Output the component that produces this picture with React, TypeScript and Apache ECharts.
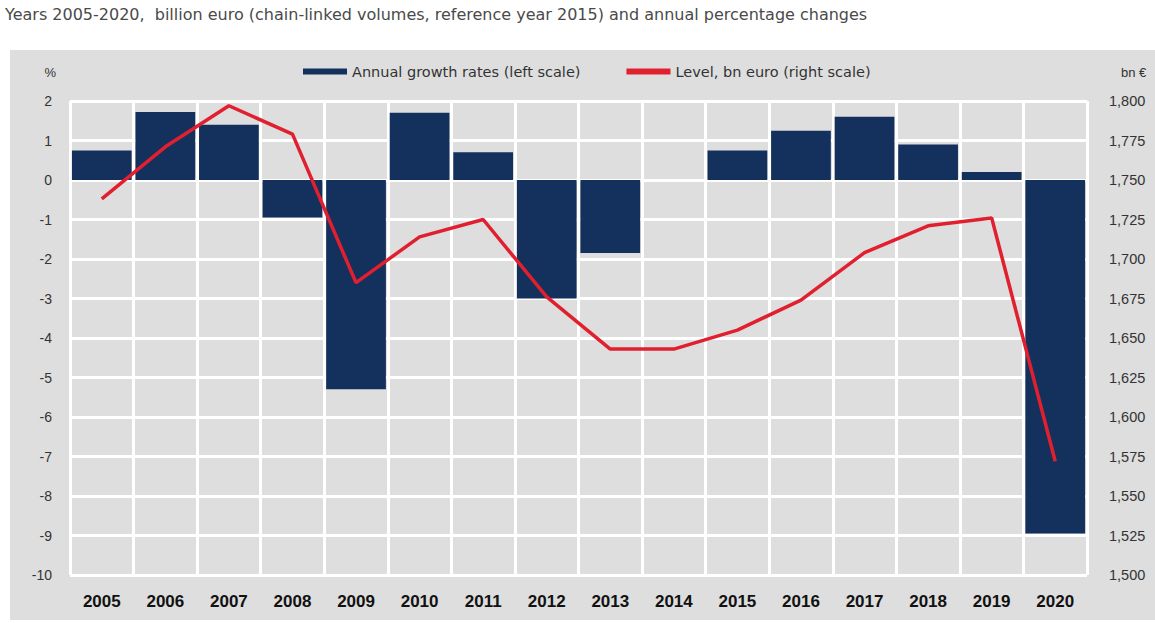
import React, { useEffect, useRef } from "react";
import * as echarts from "echarts";

const years = ["2005","2006","2007","2008","2009","2010","2011","2012","2013","2014","2015","2016","2017","2018","2019","2020"];
const growthRates = [0.75, 1.72, 1.4, -0.95, -5.3, 1.7, 0.7, -3.0, -1.85, 0.0, 0.75, 1.25, 1.6, 0.9, 0.2, -8.95];
const levelBn = [1738, 1771, 1797, 1779, 1685, 1714, 1725, 1676, 1643, 1643, 1655, 1674, 1704, 1721, 1726, 1572];

const titleText = "Years 2005-2020,  billion euro (chain-linked volumes, reference year 2015) and annual percentage changes";
const barName = "Annual growth rates (left scale)";
const lineName = "Level, bn euro (right scale)";

export default function App() {
  const ref = useRef<HTMLDivElement>(null);
  useEffect(() => {
    if (!ref.current) return;
    const chart = echarts.init(ref.current, null, { renderer: "svg" });
    const font = "Arial, 'Liberation Sans', sans-serif";
    const wide = "'DejaVu Sans', Arial, sans-serif";
    chart.setOption({
      animation: false,
      backgroundColor: "#ffffff",
      textStyle: { fontFamily: font },
      graphic: [
        { type: "rect", z: -10, shape: { x: 10, y: 50, width: 1145, height: 570 }, style: { fill: "#dedede" } },
        { type: "text", left: 5, top: 6, style: { text: titleText, fill: "#4a4a4a", fontSize: 16, fontFamily: wide } },
      ],
      legend: {
        top: 59,
        left: 298,
        itemWidth: 44,
        itemHeight: 6,
        itemGap: 46,
        textStyle: { fontSize: 14.5, color: "#333", fontFamily: wide },
        data: [
          { name: barName, icon: "rect" },
          { name: lineName, icon: "rect" },
        ],
      },
      grid: { left: 70, right: 68, top: 101, bottom: 48, containLabel: false },
      xAxis: {
        type: "category",
        data: years,
        boundaryGap: true,
        axisLine: { show: false },
        axisTick: { show: false },
        splitLine: { show: true, interval: 0, lineStyle: { color: "#ffffff", width: 3 } },
        axisLabel: { margin: 18, fontSize: 17, fontWeight: "bold", color: "#111", interval: 0, fontFamily: font },
      },
      yAxis: [
        {
          type: "value",
          min: -10,
          max: 2,
          interval: 1,
          name: "%",
          nameLocation: "end",
          nameGap: 22,
          nameTextStyle: { fontSize: 13, color: "#333", align: "right", padding: [0, 14, 0, 0] },
          axisLine: { show: false },
          axisTick: { show: false },
          splitLine: { lineStyle: { color: "#ffffff", width: 3 } },
          axisLabel: { margin: 18, fontSize: 14, color: "#333", fontFamily: font },
        },
        {
          type: "value",
          min: 1500,
          max: 1800,
          interval: 25,
          name: "bn €",
          nameLocation: "end",
          nameGap: 22,
          nameTextStyle: { fontSize: 13, color: "#333", align: "left", padding: [0, 0, 0, 34] },
          axisLine: { show: false },
          axisTick: { show: false },
          splitLine: { show: false },
          axisLabel: {
            margin: 22,
            fontSize: 14.5,
            color: "#333",
            fontFamily: font,
            formatter: (v: number) => v.toLocaleString("en-US"),
          },
        },
      ],
      series: [
        {
          name: barName,
          type: "bar",
          data: growthRates,
          yAxisIndex: 0,
          barCategoryGap: "6%",
          itemStyle: { color: "#14305c" },
        },
        {
          name: lineName,
          type: "line",
          data: levelBn,
          yAxisIndex: 1,
          showSymbol: false,
          symbol: "none",
          lineStyle: { color: "#e0202e", width: 3.5 },
          itemStyle: { color: "#e0202e" },
          z: 5,
        },
      ],
    });
    return () => chart.dispose();
  }, []);
  return <div ref={ref} style={{ position: "fixed", left: 0, top: 0, width: 1155, height: 623 }} />;
}
